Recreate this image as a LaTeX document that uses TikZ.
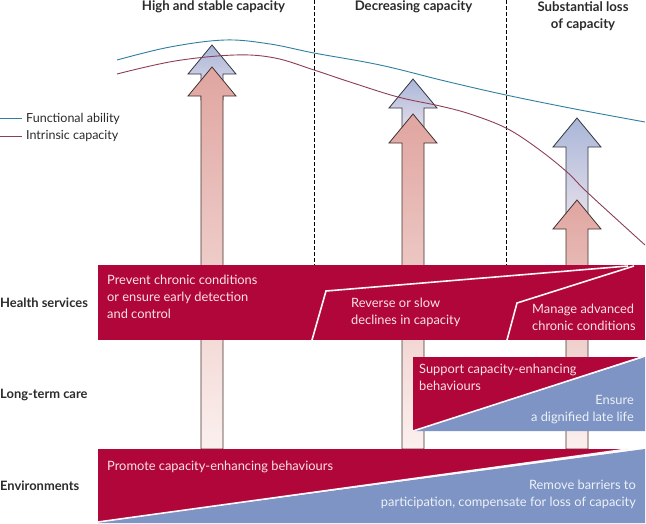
\documentclass[tikz,border=0pt]{standalone}
\usepackage{fontspec}
\setmainfont{Lato}
\definecolor{bandred}{HTML}{B0063A}
\definecolor{bandblue}{HTML}{7D94C4}
\definecolor{txtpink}{HTML}{FBE3E6}
\definecolor{txtblue}{HTML}{EEF1F8}
\definecolor{ink}{HTML}{2B2B2B}
\definecolor{fablue}{HTML}{2F7F9F}
\definecolor{icred}{HTML}{8C3F55}
\definecolor{bluetop}{HTML}{A9B6D8}
\definecolor{bluelow}{HTML}{E6DFEA}
\definecolor{redtop}{HTML}{E0A5A0}
\definecolor{redlow}{HTML}{FBF0EE}
\newcommand{\upArrow}[5]{% cx, tip, bottom, top colour, bottom colour
  \shade[draw=#4!30!black,line width=0.8pt,line join=miter,top color=#4,bottom color=#5]
    (#1,#2) -- ({#1+24},{#2+29}) -- ({#1+11},{#2+29}) -- ({#1+11},#3)
    -- ({#1-11},#3) -- ({#1-11},{#2+29}) -- ({#1-24},{#2+29}) -- cycle;}
\tikzset{
  x=1pt,y=-1pt,
  head/.style={font=\fontsize{13.2}{17}\selectfont\bfseries,text=ink,align=center,inner sep=0pt},
  rowlabel/.style={font=\fontsize{12.9}{17}\selectfont\bfseries,text=ink,anchor=west,inner sep=0pt},
  legendtext/.style={font=\fontsize{12.5}{17}\selectfont,text=ink,anchor=west,inner sep=0pt},
  ontored/.style={font=\fontsize{12.85}{17}\selectfont,text=txtpink,align=left,inner sep=0pt},
  ontoblue/.style={font=\fontsize{12.85}{17}\selectfont,text=txtblue,align=right,inner sep=0pt},
  divider/.style={dashed,dash pattern=on 3.5pt off 2.5pt,line width=0.8pt,black},
  sep/.style={draw=white!88!pink,line width=1.6pt,line join=miter}
}
\begin{document}
\begin{tikzpicture}
\useasboundingbox (0,0) rectangle (646,523);
\fill[white] (0,0) rectangle (646,523);
% dividers
\draw[divider] (314,0) -- (314,265);
\draw[divider] (506,0) -- (506,265);
% arrows: blue behind, red in front
\upArrow{212}{45}{100}{bluetop}{bluelow}
\upArrow{212}{67}{449}{redtop}{redlow}
\upArrow{413}{79}{130}{bluetop}{bluelow}
\upArrow{413}{114}{449}{redtop}{redlow}
\upArrow{577}{118}{220}{bluetop}{bluelow}
\upArrow{577}{200}{449}{redtop}{redlow}
% curves
\draw[fablue,line width=0.9pt] plot[smooth,tension=0.6] coordinates {(117,60) (170,47) (225,40) (270,44) (314,53) (380,65) (445,81) (506,95) (575,109) (645,122)};
\draw[icred,line width=0.9pt] plot[smooth,tension=0.6] coordinates {(117,74) (175,61) (235,55) (275,58) (314,70) (350,82) (398,97) (440,106) (470,114) (506,128) (537,148) (567,172) (588,193) (645,245)};
% bands
\fill[bandred] (98,265) rectangle (645,340);
\draw[sep] (628,266) -- (326,291) -- (312,340);
\draw[sep] (634,266) -- (517,303) -- (507,340);
\fill[bandblue] (413,431) -- (645,357) -- (645,431) -- cycle;
\fill[bandred] (413,357) -- (640,357) -- (413,431) -- cycle;
\draw[sep] (413,431) -- (642,357);
\fill[bandblue] (98,523) -- (98,522) -- (645,449) -- (645,523) -- cycle;
\fill[bandred] (98,449) -- (628,449) -- (98,522) -- cycle;
\draw[sep] (98,522) -- (628,449);
% headers
\node[head] (h1) at (213.5,6.5) {High and stable capacity};
\node[head] (h2) at (413.5,6.5) {Decreasing capacity};
\node[head] (h3) at (583,16) {Substantial loss\\of capacity};
% legend
\node[legendtext] (fa) at (26,119) {Functional ability};
\node[legendtext] (ic) at (26,136.5) {Intrinsic capacity};
\coordinate (fa0) at (0,118.5);
\coordinate (ic0) at (0,136);
\draw[fablue,line width=0.9pt] (fa0) -- (22,118.5);
\draw[icred,line width=0.9pt] (ic0) -- (22,136);
% row labels
\node[rowlabel] (r1) at (0,302.5) {Health services};
\node[rowlabel] (r2) at (0,394.5) {Long-term care};
\node[rowlabel] (r3) at (0,485.5) {Environments};
% band texts
\node[ontored,anchor=north west] (t1) at (107,275) {Prevent chronic conditions\\or ensure early detection\\and control};
\node[ontored,anchor=north west] (t2) at (351,298) {Reverse or slow\\declines in capacity};
\node[ontored,anchor=north west] (t3) at (532,304) {Manage advanced\\chronic conditions};
\node[ontored,anchor=north west] (t4) at (419,364) {Support capacity-enhancing\\behaviours};
\node[ontoblue,anchor=north east] (t5) at (634,395) {Ensure\\a dignified late life};
\node[ontored,anchor=west] (t6) at (107,467) {Promote capacity-enhancing behaviours};
\node[ontoblue,anchor=north east] (t7) at (636,480) {Remove barriers to\\participation, compensate for loss of capacity};
\end{tikzpicture}
\end{document}
